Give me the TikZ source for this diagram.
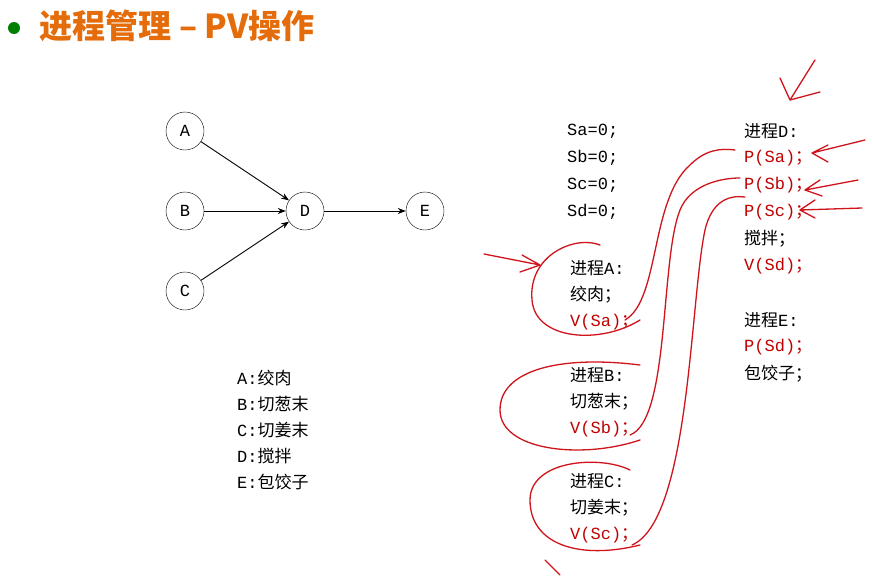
\documentclass[tikz,border=0pt]{standalone}
\usepackage{fontspec}
\newfontfamily\cjk{Noto Sans CJK SC}
\setmainfont{Liberation Mono}
\newcommand\zh[1]{{\cjk #1}}
\usetikzlibrary{arrows.meta}
\definecolor{ttl}{HTML}{E46C0A}
\definecolor{pen}{HTML}{D0141C}
\definecolor{codered}{HTML}{C00000}
\tikzset{
 circ/.style={draw,circle,minimum size=38pt,inner sep=0pt,font=\fontsize{17}{17}\selectfont},
 edge/.style={-{Stealth[length=8pt,width=6pt]},line width=0.9pt},
 lbl/.style={anchor=west,inner sep=0pt,font=\fontsize{17}{17}\selectfont},
 red/.style={lbl,text=codered},
 ink/.style={pen,line width=1.3pt,line cap=round}
}
\begin{document}
\begin{tikzpicture}[x=1pt,y=-1pt]
\useasboundingbox[fill=white] (0,0) rectangle (873,584);
\node[circle,fill=green!50!black,minimum size=12pt,inner sep=0pt] (icon) at (14,28) {};
\node[anchor=west,text=ttl,font=\cjk\bfseries\fontsize{33}{33}\selectfont] (title) at (36,26) {进程管理 – PV操作};
\node[circ] (A) at (185,131) {A};
\node[circ] (B) at (185,211) {B};
\node[circ] (C) at (185,291) {C};
\node[circ] (D) at (305,211) {D};
\node[circ] (E) at (425,211) {E};
\draw[edge] (A) -- (D);
\draw[edge] (B) -- (D);
\draw[edge] (C) -- (D);
\draw[edge] (D) -- (E);
\node[lbl] (l1) at (237,378) {A:\zh{绞肉}};
\node[lbl] (l2) at (237,404) {B:\zh{切葱末}};
\node[lbl] (l3) at (237,430) {C:\zh{切姜末}};
\node[lbl] (l4) at (237,456) {D:\zh{搅拌}};
\node[lbl] (l5) at (237,482) {E:\zh{包饺子}};
\node[lbl] (s1) at (567,131) {Sa=0;};
\node[lbl] (s2) at (567,158) {Sb=0;};
\node[lbl] (s3) at (567,185) {Sc=0;};
\node[lbl] (s4) at (567,212) {Sd=0;};
\node[lbl] (a1) at (570,268) {\zh{进程}A:};
\node[lbl] (a2) at (570,295) {\zh{绞肉；}};
\node[red] (a3) at (570,322) {V(Sa)\zh{；}};
\node[lbl] (b1) at (570,375) {\zh{进程}B:};
\node[lbl] (b2) at (570,402) {\zh{切葱末；}};
\node[red] (b3) at (570,429) {V(Sb)\zh{；}};
\node[lbl] (c1) at (570,481) {\zh{进程}C:};
\node[lbl] (c2) at (570,508) {\zh{切姜末；}};
\node[red] (c3) at (570,535) {V(Sc)\zh{；}};
\node[lbl] (d1) at (744,131) {\zh{进程}D:};
\node[red] (d2) at (744,158) {P(Sa)\zh{；}};
\node[red] (d3) at (744,185) {P(Sb)\zh{；}};
\node[red] (d4) at (744,212) {P(Sc)\zh{；}};
\node[lbl] (d5) at (744,239) {\zh{搅拌；}};
\node[red] (d6) at (744,266) {V(Sd)\zh{；}};
\node[lbl] (e1) at (744,320) {\zh{进程}E:};
\node[red] (e2) at (744,347) {P(Sd)\zh{；}};
\node[lbl] (e3) at (744,374) {\zh{包饺子；}};
% handwritten strokes
\draw[ink] (640,320) .. controls (600,345) and (535,340) .. (532,300) .. controls (528,255) and (575,235) .. (600,245);
\draw[ink] (625,320) .. controls (660,300) and (650,200) .. (690,165) .. controls (705,150) and (720,148) .. (735,150);
\draw[ink] (640,440) .. controls (580,460) and (500,450) .. (500,410) .. controls (500,370) and (560,355) .. (640,365);
\draw[ink] (630,435) .. controls (670,420) and (660,260) .. (680,210) .. controls (690,185) and (720,178) .. (740,178);
\draw[ink] (640,545) .. controls (580,560) and (530,545) .. (530,500) .. controls (530,460) and (600,455) .. (630,470);
\draw[ink] (632,545) .. controls (690,520) and (690,300) .. (705,230) .. controls (712,200) and (730,195) .. (745,197);
\draw[ink] (545,560) -- (560,575);
\draw[ink] (865,140) -- (812,153) (812,153) -- (828,145) (812,153) -- (828,162);
\draw[ink] (858,180) -- (805,190) (805,190) -- (820,180) (805,190) -- (822,196);
\draw[ink] (862,208) -- (800,210) (800,210) -- (815,200) (800,210) -- (815,218);
\draw[ink] (815,60) -- (790,100) (790,100) -- (780,78) (790,100) -- (820,92);
\draw[ink] (484,254) -- (540,265) (540,265) -- (522,255) (540,265) -- (520,272);
\end{tikzpicture}
\end{document}
